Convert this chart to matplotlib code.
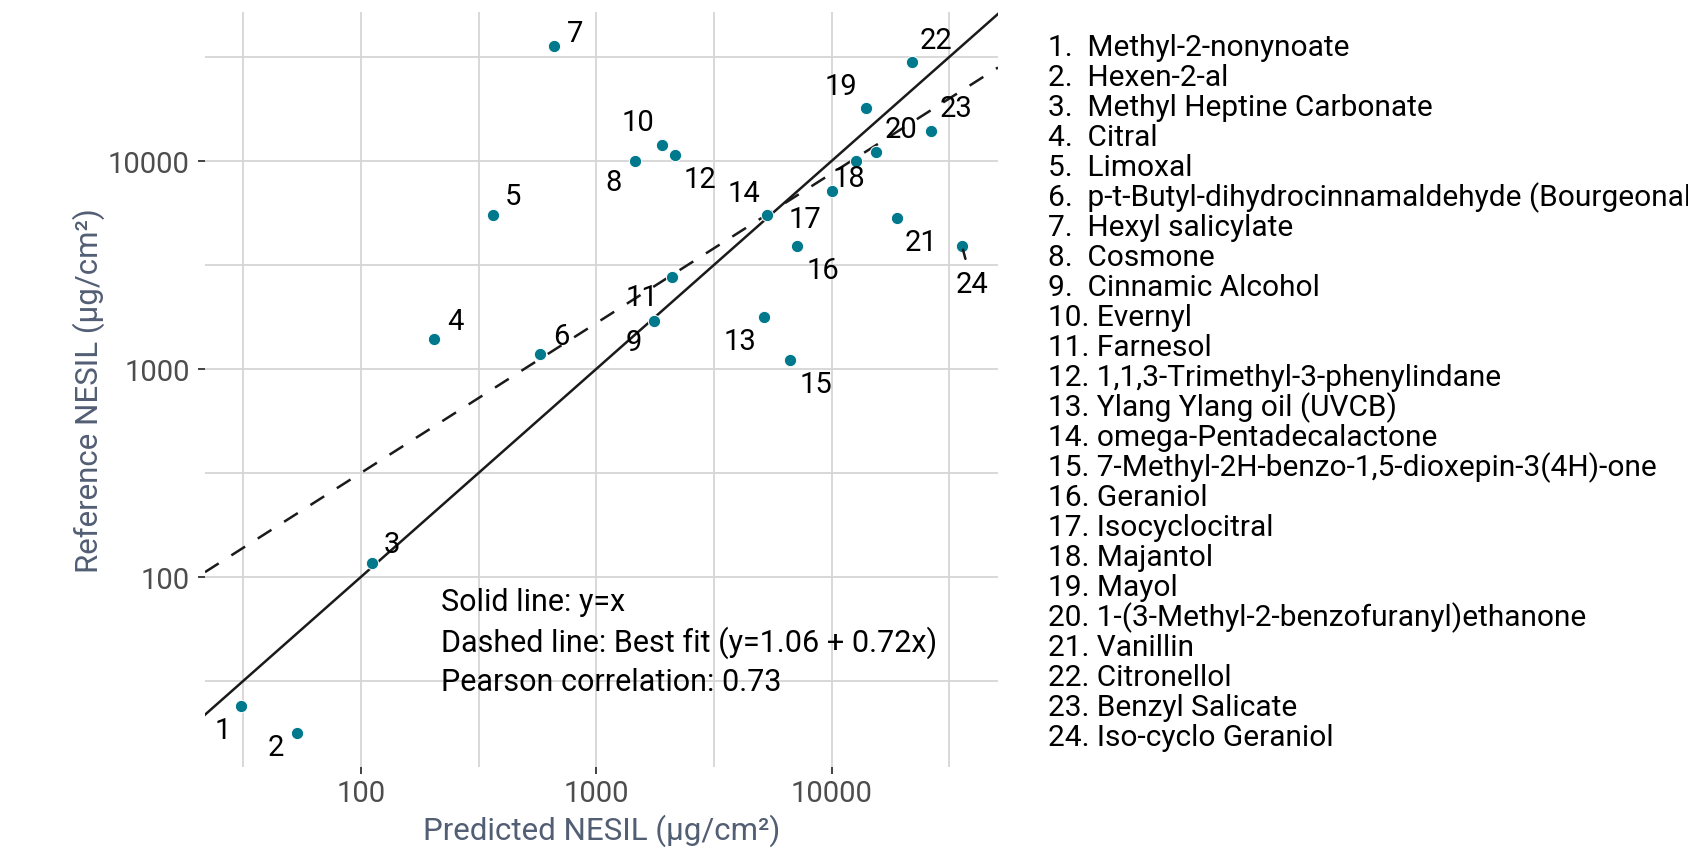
"""
Predicted vs reference NESIL scatter (log-log) with numbered compound legend
"""
import numpy as np
import matplotlib
matplotlib.use("Agg")
import matplotlib.pyplot as plt

plt.rcParams['font.family'] = ['Roboto', 'DejaVu Sans']

# values (µg/cm²)
PREDICTED = [30.9, 53.3, 111, 204, 363, 578, 661, 1455, 1765, 1896, 2100, 2154,
             5135, 5290, 6674, 7096, 10000, 12690, 13990, 15490, 18910, 21970, 26470, 35740]
REFERENCE = [23.8, 17.8, 117, 1398, 5506, 1180, 35530, 10000, 1700, 11860, 2765, 10690,
             1771, 5487, 1101, 3882, 7129, 9934, 17850, 11050, 5307, 29770, 13890, 3908]
COMPOUNDS = [
    "Methyl-2-nonynoate", "Hexen-2-al", "Methyl Heptine Carbonate", "Citral", "Limoxal",
    "p-t-Butyl-dihydrocinnamaldehyde (Bourgeonal)", "Hexyl salicylate", "Cosmone",
    "Cinnamic Alcohol", "Evernyl", "Farnesol", "1,1,3-Trimethyl-3-phenylindane",
    "Ylang Ylang oil (UVCB)", "omega-Pentadecalactone",
    "7-Methyl-2H-benzo-1,5-dioxepin-3(4H)-one", "Geraniol", "Isocyclocitral", "Majantol",
    "Mayol", "1-(3-Methyl-2-benzofuranyl)ethanone", "Vanillin", "Citronellol",
    "Benzyl Salicate", "Iso-cyclo Geraniol",
]
FIT_INTERCEPT = 1.06
FIT_SLOPE = 0.72
PEARSON_R = 0.73
X_TICKS = [100, 1000, 10000]
Y_TICKS = [100, 1000, 10000]

# label nudges (pixels) roughly where the repelled labels ended up
LABEL_OFFSETS = [(-18, -24), (-21, -14), (20, 19), (21, 18), (20, 19), (21, 18),
                 (21, 13), (-21, -21), (-21, -21), (-24, 23), (-30, -20), (25, -24),
                 (-24, -24), (-23, 22), (25, -24), (26, -24), (-27, -28), (-7, -17),
                 (-25, 22), (25, 23), (24, -24), (24, 22), (25, 23), (10, -38)]
SEGMENT_LABELS = [24]

POINT_COLOR = '#00798c'
LINE_COLOR = '#1a1a1a'
TICK_COLOR = '#4d4d4d'
TITLE_COLOR = '#525e74'
GRID_COLOR = '#d6d6d6'


def log_limits(values, expand=0.05):
    lo, hi = np.log10(min(values)), np.log10(max(values))
    pad = (hi - lo) * expand
    return 10 ** (lo - pad), 10 ** (hi + pad)


def half_decades(ticks):
    logs = np.log10(ticks)
    return list(10 ** (logs - 0.5)) + [10 ** (logs[-1] + 0.5)]


def main():
    fig = plt.figure(figsize=(16.88, 8.54), dpi=100)
    ax = fig.add_axes([205 / 1688, 1 - 768 / 854, 793 / 1688, 755 / 854])

    xlim = log_limits(PREDICTED)
    ylim = log_limits(REFERENCE)
    ax.set_xscale('log')
    ax.set_yscale('log')
    ax.set_xlim(xlim)
    ax.set_ylim(ylim)

    ax.set_xticks(X_TICKS)
    ax.set_xticklabels([str(t) for t in X_TICKS])
    ax.set_yticks(Y_TICKS)
    ax.set_yticklabels([str(t) for t in Y_TICKS])
    ax.set_xticks(half_decades(X_TICKS), minor=True)
    ax.set_yticks(half_decades(Y_TICKS), minor=True)
    ax.xaxis.set_minor_formatter(matplotlib.ticker.NullFormatter())
    ax.yaxis.set_minor_formatter(matplotlib.ticker.NullFormatter())

    ax.grid(which='both', color=GRID_COLOR, lw=1.3, zorder=0)
    ax.set_axisbelow(True)
    for s in ax.spines.values():
        s.set_visible(False)
    ax.tick_params(which='major', length=5, width=1.3, color='#333333',
                   labelsize=21, labelcolor=TICK_COLOR)
    ax.tick_params(axis='x', which='major', pad=4)
    ax.tick_params(axis='y', which='major', pad=6)
    ax.tick_params(which='minor', length=0)

    # y = x and best fit in log space
    xs = np.array(xlim)
    ax.plot(xs, xs, color=LINE_COLOR, lw=1.8, zorder=2)
    ax.plot(xs, 10 ** (FIT_INTERCEPT + FIT_SLOPE * np.log10(xs)), color=LINE_COLOR,
            lw=1.8, dashes=(6.5, 6), zorder=2)

    ax.scatter(PREDICTED, REFERENCE, s=78, color=POINT_COLOR, edgecolor='white',
               linewidth=0.7, zorder=3)

    for i, (px, py) in enumerate(zip(PREDICTED, REFERENCE)):
        num = i + 1
        arrow = None
        if num in SEGMENT_LABELS:
            arrow = dict(arrowstyle='-', color=LINE_COLOR, lw=1.8, shrinkA=6, shrinkB=3)
        ax.annotate(str(num), (px, py), xytext=LABEL_OFFSETS[i], textcoords='offset pixels',
                    ha='center', va='center', fontsize=21, color='black',
                    arrowprops=arrow, zorder=4)

    note = ("Solid line: y=x\n"
            f"Dashed line: Best fit (y={FIT_INTERCEPT:.2f} + {FIT_SLOPE:.2f}x)\n"
            f"Pearson correlation: {PEARSON_R:.2f}")
    ax.text(218, 48.9, note, ha='left', va='center', fontsize=22, linespacing=1.38,
            color='black', zorder=4)

    ax.set_xlabel("Predicted NESIL (µg/cm²)", fontsize=22.5, color=TITLE_COLOR, labelpad=4)
    ax.set_ylabel("Reference NESIL (µg/cm²)", fontsize=22.5, color=TITLE_COLOR, labelpad=2)

    # numbered compound list to the right of the panel
    for i, name in enumerate(COMPOUNDS):
        num = i + 1
        label = f"{num}.  {name}" if num < 10 else f"{num}. {name}"
        fig.text(1048 / 1688, 1 - (48 + 30 * i) / 854, label, ha='left', va='center',
                 fontsize=21.5, color='black')

    fig.savefig("out.png", dpi=100, facecolor='white')


if __name__ == "__main__":
    main()
